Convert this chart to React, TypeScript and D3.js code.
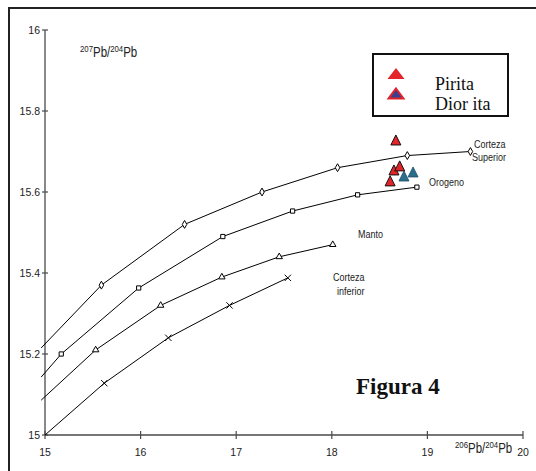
import React from "react";
import * as d3 from "d3";

const W = 536;
const H = 471;

// ---- data ----
const xTicks = [15, 16, 17, 18, 19, 20];
const yTicks = [15, 15.2, 15.4, 15.6, 15.8, 16];

// model curves (first point: unmarked start of the line)
const superiorX = [14.96, 15.59, 16.46, 17.27, 18.06, 18.79, 19.45];
const superiorY = [15.215, 15.37, 15.52, 15.6, 15.66, 15.69, 15.7];
const orogenoX = [14.96, 15.17, 15.98, 16.86, 17.59, 18.27, 18.89];
const orogenoY = [15.143, 15.2, 15.363, 15.49, 15.553, 15.593, 15.612];
const mantoX = [14.96, 15.53, 16.21, 16.85, 17.45, 18.01];
const mantoY = [15.086, 15.21, 15.32, 15.39, 15.44, 15.47];
const inferiorX = [15.0, 15.62, 16.29, 16.93, 17.54];
const inferiorY = [15.0, 15.128, 15.24, 15.32, 15.388];

// samples
const piritaX = [18.67, 18.65, 18.71, 18.61];
const piritaY = [15.726, 15.652, 15.662, 15.625];
const dioritaX = [18.755, 18.85];
const dioritaY = [15.637, 15.647];

const legendLabels = ["Pirita", "Dior ita"];

const x = d3.scaleLinear().domain([15, 20]).range([45, 523]);
const y = d3.scaleLinear().domain([15, 16]).range([435, 30]);

const zip = (xs: number[], ys: number[]) => xs.map((v, i) => [v, ys[i]] as [number, number]);

const series = [
  { pts: zip(superiorX, superiorY), sym: d3.symbolDiamond, size: 18 },
  { pts: zip(orogenoX, orogenoY), sym: d3.symbolSquare, size: 18 },
  { pts: zip(mantoX, mantoY), sym: d3.symbolTriangle, size: 18 },
  { pts: zip(inferiorX, inferiorY), sym: d3.symbolTimes, size: 28 },
];

const line = d3
  .line<[number, number]>()
  .x((d) => x(d[0]))
  .y((d) => y(d[1]));

const tri = (w: number, h: number) => `M0,${-h * 0.6}L${w / 2},${h * 0.4}L${-w / 2},${h * 0.4}Z`;

const sans = "'Liberation Sans', Arial, sans-serif";
const serif = "'Liberation Serif', 'Times New Roman', serif";

const NARROW = 0.82;

function Narrow({ x0, y0, size, children }: { x0: number; y0: number; size: number; children: React.ReactNode }) {
  return (
    <text
      transform={`translate(${x0},${y0}) scale(${NARROW},1)`}
      fontFamily={sans}
      fontSize={size}
      fill="#222"
    >
      {children}
    </text>
  );
}

function PbRatio({ x0, y0, top, bottom }: { x0: number; y0: number; top: string; bottom: string }) {
  return (
    <Narrow x0={x0} y0={y0} size={14}>
      <tspan fontSize={9.5} dy={-5}>{top}</tspan>
      <tspan dy={5}>Pb/</tspan>
      <tspan fontSize={9.5} dy={-5}>{bottom}</tspan>
      <tspan dy={5}>Pb</tspan>
    </Narrow>
  );
}

export default function App() {
  const axisColor = "#4a4a4a";
  return (
    <svg
      width={W}
      height={H}
      style={{ position: "absolute", left: 0, top: 0, background: "#fff" }}
    >
      <rect x={0} y={0} width={W} height={H} fill="#fff" />
      {/* frame */}
      <path d={`M9,${H}V8H${W}`} fill="none" stroke="#222" strokeWidth={2} />

      {/* axes */}
      <line x1={x(15)} x2={x(15)} y1={y(16)} y2={y(15)} stroke={axisColor} strokeWidth={1.3} />
      <line x1={x(15)} x2={x(20)} y1={y(15)} y2={y(15)} stroke={axisColor} strokeWidth={1.3} />
      {yTicks.map((t) => (
        <g key={"y" + t}>
          <line x1={x(15) - 3} x2={x(15) + 3} y1={y(t)} y2={y(t)} stroke={axisColor} strokeWidth={1.2} />
          <text x={x(15) - 5} y={y(t) + 4} textAnchor="end" fontSize={10.5} fontFamily={sans} fill="#222">
            {t}
          </text>
        </g>
      ))}
      {xTicks.map((t) => (
        <g key={"x" + t}>
          <line x1={x(t)} x2={x(t)} y1={y(15) - 4} y2={y(15) + 4} stroke={axisColor} strokeWidth={1.2} />
          <text x={x(t)} y={y(15) + 21} textAnchor="middle" fontSize={10.5} fontFamily={sans} fill="#222">
            {t}
          </text>
        </g>
      ))}

      {/* axis titles */}
      <PbRatio x0={80} y0={57} top="207" bottom="204" />
      <PbRatio x0={455} y0={453} top="206" bottom="204" />

      {/* curves */}
      {series.map((s, i) => (
        <g key={"s" + i}>
          <path d={line(s.pts) || ""} fill="none" stroke="#000" strokeWidth={1} />
          {s.pts.slice(1).map((p, j) => (
            <path
              key={j}
              d={d3.symbol(s.sym, s.size)() || ""}
              transform={`translate(${x(p[0])},${y(p[1])})`}
              fill="#fff"
              stroke="#000"
              strokeWidth={1}
            />
          ))}
        </g>
      ))}

      {/* curve labels */}
      <Narrow x0={474} y0={148} size={11}>Corteza</Narrow>
      <Narrow x0={472} y0={161} size={11}>Superior</Narrow>
      <Narrow x0={429} y0={186} size={11}>Orogeno</Narrow>
      <Narrow x0={358} y0={238} size={11}>Manto</Narrow>
      <Narrow x0={333} y0={281} size={11}>Corteza</Narrow>
      <Narrow x0={337} y0={295} size={11}>inferior</Narrow>

      {/* samples */}
      {zip(piritaX, piritaY).map((p, i) => (
        <path
          key={"p" + i}
          d={tri(10, 10)}
          transform={`translate(${x(p[0])},${y(p[1])})`}
          fill="#e3242b"
          stroke="#111"
          strokeWidth={1}
        />
      ))}
      {zip(dioritaX, dioritaY).map((p, i) => (
        <path
          key={"d" + i}
          d={tri(10, 10)}
          transform={`translate(${x(p[0])},${y(p[1])})`}
          fill="#2a6f8c"
          stroke="#1c4a66"
          strokeWidth={0.8}
        />
      ))}

      {/* legend */}
      <rect x={373} y={54} width={135} height={62} fill="#fff" stroke="#111" strokeWidth={2} />
      <path d={tri(17, 11)} transform="translate(396,74.5)" fill="#e3242b" />
      <path d={tri(15, 10)} transform="translate(396,94.5)" fill="#3b3f8f" stroke="#e3242b" strokeWidth={2} />
      <text x={435} y={90} fontFamily={serif} fontSize={18} fill="#111">
        {legendLabels[0]}
      </text>
      <text x={435} y={110} fontFamily={serif} fontSize={18} fill="#111">
        {legendLabels[1]}
      </text>

      {/* figure label */}
      <text x={356} y={394} fontFamily={serif} fontSize={23} fontWeight="bold" fill="#111">
        Figura 4
      </text>
    </svg>
  );
}
